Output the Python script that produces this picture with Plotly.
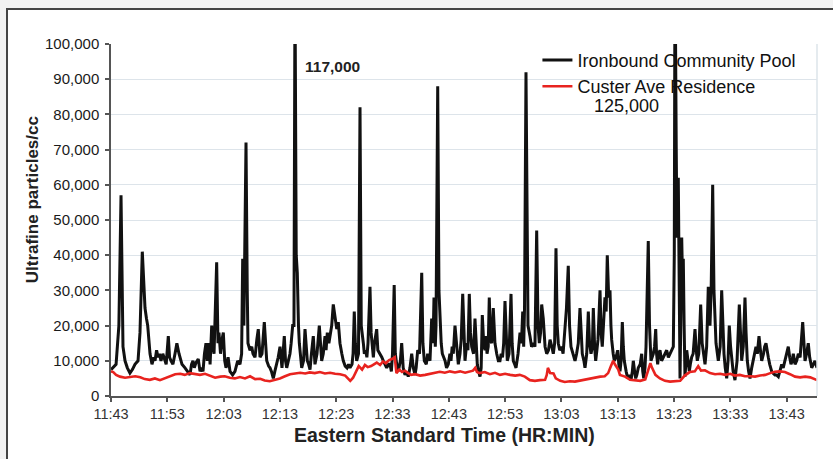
import pandas as pd
import plotly.graph_objects as go

# ---- data (minutes after 11:43, particles/cc) ----
ib_minutes = [0.0,0.36,0.9,1.4,1.78,2.13,2.49,2.9,3.37,3.8,4.26,4.8,5.15,5.56,6.04,6.3,6.52,6.93,7.28,7.6,7.82,8.1,8.35,8.6,8.88,9.2,9.41,9.8,10.18,10.4,10.66,11.0,11.37,11.7,12.08,12.61,13.14,13.6,14.03,14.3,14.56,14.8,15.1,15.5,15.81,16.1,16.34,16.6,16.87,17.1,17.41,17.6,17.89,18.1,18.3,18.77,19.0,19.18,19.45,19.72,19.95,20.2,20.43,20.8,21.14,21.6,22.02,22.5,22.91,23.2,23.39,23.6,23.98,24.2,24.33,24.69,25.0,25.22,25.58,25.9,26.16,26.47,26.82,27.23,27.5,27.66,28.0,28.24,28.5,28.83,29.1,29.43,29.7,30.02,30.37,30.78,31.0,31.21,31.5,31.79,32.0,32.27,32.5,32.68,32.9,33.09,33.3,33.45,33.87,34.2,34.46,34.7,34.87,35.1,35.35,35.6,35.93,36.23,36.59,37.0,37.2,37.42,37.7,38.01,38.2,38.42,38.7,38.9,39.2,39.48,39.79,40.1,40.37,40.67,41.0,41.26,41.6,41.92,42.2,42.45,42.81,43.0,43.21,43.4,43.64,43.96,44.23,44.45,44.82,45.0,45.24,45.45,45.65,46.0,46.2,46.41,46.6,46.8,47.19,47.4,47.78,48.1,48.37,48.7,48.97,49.3,49.56,49.8,50.0,50.3,50.5,50.75,51.0,51.15,51.4,51.63,51.9,52.22,52.5,52.8,53.1,53.41,53.7,54.0,54.2,54.48,54.8,55.19,55.4,55.65,56.0,56.25,56.66,56.96,57.2,57.37,57.6,57.73,58.03,58.25,58.44,58.65,58.85,59.1,59.33,59.6,59.91,60.2,60.39,60.6,60.8,61.1,61.4,61.69,61.99,62.2,62.47,62.7,62.88,63.18,63.4,63.64,63.85,64.07,64.4,64.65,64.85,65.06,65.3,65.54,65.75,65.95,66.2,66.43,66.6,66.79,67.0,67.19,67.4,67.62,67.9,68.2,68.51,68.8,69.09,69.3,69.54,69.75,69.98,70.2,70.39,70.7,71.05,71.25,71.46,71.7,71.94,72.3,72.65,72.9,73.13,73.3,73.45,73.71,73.9,74.07,74.42,74.7,75.01,75.3,75.61,75.85,76.08,76.3,76.5,76.78,77.1,77.39,77.7,77.98,78.3,78.56,78.8,79.04,79.25,79.45,79.7,80.05,80.3,80.64,80.9,81.22,81.45,81.7,82.11,82.42,82.7,83.0,83.3,83.5,83.71,84.0,84.19,84.5,84.78,85.0,85.26,85.5,85.67,85.9,86.09,86.3,86.5,86.86,87.05,87.26,87.5,87.74,87.95,88.15,88.4,88.63,88.8,88.93,89.2,89.4,89.7,90.0,90.2,90.41,90.6,90.82,91.0,91.17,91.5,91.78,92.1,92.36,92.6,92.77,93.0,93.2,93.4,93.66,94.0,94.26,94.45,94.62,94.85,95.03,95.43,95.65,95.91,96.1,96.32,96.55,96.75,96.9,97.1,97.3,97.51,97.8,98.1,98.4,98.7,99.0,99.29,99.6,99.88,100.05,100.18,100.4,100.53,100.76,100.9,101.07,101.2,101.37,101.55,101.65,101.8,101.95,102.26,102.5,102.72,102.9,103.14,103.4,103.73,103.95,104.14,104.4,104.74,105.0,105.21,105.51,105.8,106.09,106.25,106.39,106.6,106.87,107.1,107.46,107.87,108.2,108.47,108.7,108.88,109.1,109.36,109.6,109.82,110.05,110.25,110.5,110.83,111.2,111.6,111.8,112.02,112.3,112.61,112.8,113.02,113.25,113.5,113.8,114.09,114.3,114.56,114.8,115.1,115.35,115.58,115.9,116.1,116.34,116.55,116.75,117.0,117.35,117.6,117.94,118.2,118.53,118.8,119.13,119.4,119.72,120.0,120.3,120.55,120.78,121.0,121.19,121.5,121.79,122.08,122.4,122.86,123.05,123.27,123.55,123.85,124.1,124.46,124.75,125.04,125.4]
ib_values = [7500,8000,9000,20000,57000,14000,10000,8000,6500,7500,9000,10000,18000,41000,25000,22000,20000,12000,9000,11000,10000,13000,11000,12000,10000,12000,11000,9000,17000,11000,10000,9000,12000,15000,12000,9000,8000,7000,6000,9000,10000,8000,9500,10500,7000,8000,7000,12000,15000,10000,15000,9000,20000,14000,12000,38000,15000,18000,12000,16000,18000,10000,8000,11000,7000,6000,7000,10000,9000,12000,39000,20000,72000,30000,15000,13000,14000,12000,11000,16000,19000,11000,12000,21000,14000,10000,8500,8000,7000,5000,7000,9000,11000,14000,8000,17000,10000,8000,10000,12000,15000,20000,20000,117000,40000,35000,20000,15000,8000,10000,19000,12000,10000,9000,7500,12000,17000,9000,12000,20000,14000,10000,12000,17000,13000,18000,15000,17000,20000,26000,22000,19000,21000,15000,12000,10000,8500,8000,9000,8000,9000,12000,24000,15000,10000,12000,82000,20000,15000,12000,13000,11000,15000,31000,18000,13000,11000,15000,19000,13000,12000,11000,10000,9000,8000,9000,9000,7000,12000,31500,12000,9000,7000,8000,10000,15000,8000,6000,7000,5500,8000,12000,8000,6000,8000,13000,12000,35000,15000,10000,9000,12000,10000,22000,15000,28000,14000,20000,88000,30000,20000,15000,12000,11000,10000,8000,9000,12000,10000,14000,12000,20000,14000,9000,12000,16000,29000,14000,10000,15000,13000,29000,18000,14000,12000,22000,13000,9000,7000,5500,8000,23000,15000,13000,17000,12000,14000,28000,16000,15000,25000,15000,12000,10000,10000,12000,11000,15000,27000,14000,10000,12000,29000,15000,10000,9000,8000,12000,18000,15000,24000,14000,25000,92000,40000,20000,17000,14000,15000,14000,47000,20000,15000,18000,26000,22000,14000,12000,13000,16000,14000,12000,15000,42000,20000,15000,13000,14000,12000,20000,25000,37000,20000,14000,12000,10000,12000,15000,25000,16000,12000,10000,8000,12000,24000,15000,12000,14000,25000,14000,10000,13000,16000,30000,18000,14000,20000,28000,24000,40000,28000,30000,20000,16000,12000,10000,11000,13000,9000,7000,10000,21000,14000,10000,7000,5000,6000,4500,7000,10000,7000,5000,6000,8000,9000,12000,7000,5000,8000,14000,44000,20000,10000,11000,12000,14000,19000,12000,9000,12000,13000,10000,11000,12000,13000,11000,12000,13000,14000,40000,125000,70000,45000,62000,30000,5000,20000,45000,30000,39000,20000,5500,13000,9000,7000,9000,11000,12000,19000,13000,10000,12000,26000,15000,12000,9000,14000,31000,22000,20000,30000,60000,30000,15000,10000,14000,30000,15000,12000,8000,5000,10000,20000,14000,10000,7000,4500,10000,26000,15000,10000,14000,28000,18000,10000,7000,5000,8000,10000,12000,14000,12000,17000,13000,10000,12000,14000,15000,12000,11000,9000,7000,6500,6000,6000,5500,7000,9000,8000,10000,12000,14000,11000,9000,10000,12000,9000,10000,12000,11000,21000,14000,10000,12000,15000,11000,8000,9000,10000,8000]

cu_minutes = [0.0,0.4,0.9,1.6,2.5,3.4,4.3,5.2,6.0,6.9,7.8,8.7,9.6,10.5,11.4,12.3,13.1,14.0,14.9,15.8,16.7,17.6,18.5,19.4,20.2,21.1,22.0,22.9,23.8,24.7,25.6,26.5,27.3,28.2,29.1,30.0,30.9,31.8,32.7,33.6,34.5,35.3,36.2,37.1,38.0,38.9,39.8,40.7,41.6,42.1,42.5,43.0,43.5,44.0,44.6,45.1,45.6,46.2,46.7,47.2,47.8,48.3,48.8,49.4,49.9,50.4,50.7,51.2,51.7,52.2,52.8,53.3,54.0,54.9,55.8,56.7,57.5,58.4,59.3,60.2,61.1,62.0,62.9,63.8,64.3,64.7,65.0,65.5,66.4,67.3,68.2,69.1,70.0,70.9,71.8,72.6,73.5,74.4,75.3,76.2,77.1,77.4,77.6,78.0,78.6,79.0,79.8,80.6,81.5,82.4,83.3,84.2,85.1,86.0,86.9,87.7,88.3,88.8,89.2,89.5,90.1,90.4,91.3,92.2,93.1,94.0,94.9,95.4,95.8,96.1,96.7,97.5,98.4,99.3,100.2,101.1,101.9,102.8,103.7,104.3,104.8,105.5,106.4,107.3,108.2,109.1,110.0,110.8,111.7,112.6,113.5,114.4,115.3,116.2,117.1,117.9,118.8,119.7,120.6,121.5,122.4,123.3,124.2,125.0,125.4]
cu_values = [7000,6800,6000,5500,5200,5300,5600,5300,4800,4600,5000,4500,5000,5500,6200,6300,6000,6500,6200,6000,6300,5800,5200,5500,5600,5200,5000,5400,5000,5600,4800,4900,4400,4200,4500,5000,5600,6200,6400,6600,6400,6700,6500,6800,6400,6600,6300,6200,5800,4800,4300,5200,7000,8500,7500,8800,8200,8500,9000,9500,8800,9800,9300,10200,10500,11000,6500,7500,6800,7200,6500,6000,6200,5800,6000,6300,6700,6900,6600,7000,6700,7000,6600,7000,7200,8000,6800,6500,6800,6200,6600,6000,6300,6000,5800,6000,5500,4500,4300,4500,4600,6000,8000,6500,6400,5000,4300,4000,4200,4100,4400,4600,5000,5300,5500,5600,6500,8500,10000,9000,7500,6000,5500,4600,4500,4300,4700,7500,9300,8000,6000,5000,4300,4100,4200,4300,5800,6800,7000,8500,7200,7300,6500,6200,6300,6000,6300,5800,6000,5600,5600,5500,5800,6000,6500,6900,7000,6800,6200,5500,5300,5500,5300,4800,4500]

series_names = ["Ironbound Community Pool", "Custer Ave Residence"]
y_ticks = [0, 10000, 20000, 30000, 40000, 50000, 60000, 70000, 80000, 90000, 100000]
start_time = "2000-01-01 11:43:00"
x_end_minutes = 125.4
peak_labels = ["117,000", "125,000"]

base = pd.Timestamp(start_time)
ib_t = base + pd.to_timedelta(ib_minutes, unit="min")
cu_t = base + pd.to_timedelta(cu_minutes, unit="min")

fig = go.Figure()
fig.add_trace(go.Scatter(x=ib_t, y=ib_values, mode="lines", name=series_names[0],
                         line=dict(color="#111111", width=3)))
fig.add_trace(go.Scatter(x=cu_t, y=cu_values, mode="lines", name=series_names[1],
                         line=dict(color="#e8231f", width=2.6)))

FONT = "Liberation Sans, Arial, sans-serif"

fig.update_layout(
    width=833, height=459,
    margin=dict(l=111, r=16, t=44, b=63),
    paper_bgcolor="#f2f2f2",
    plot_bgcolor="white",
    showlegend=True,
    legend=dict(x=0.604, y=1.0065, xanchor="left", yanchor="top",
                bgcolor="rgba(0,0,0,0)", font=dict(family=FONT, size=18, color="#111"),
                itemwidth=30, tracegroupgap=0),
    font=dict(family=FONT, color="#222"),
)

fig.update_xaxes(
    type="date",
    range=[base, base + pd.Timedelta(minutes=x_end_minutes)],
    tick0=base, dtick=600000, tickformat="%H:%M",
    showgrid=False, showline=True, linecolor="#555", linewidth=1.5,
    ticks="outside", ticklen=4, tickcolor="#555", tickwidth=1.5,
    tickfont=dict(family=FONT, size=14.5, color="#333"),
    zeroline=False,
)
fig.update_yaxes(
    range=[0, 100000], tickvals=y_ticks, tickformat=",d",
    showgrid=True, gridcolor="#dde4ea", gridwidth=1,
    showline=True, linecolor="#555", linewidth=1.5,
    ticks="outside", ticklen=4, tickcolor="#555", tickwidth=1.5,
    tickfont=dict(family=FONT, size=15, color="#1a1a1a"),
    ticklabelstandoff=3,
    zeroline=False,
)

# frame, plot right border
fig.add_shape(type="rect", xref="paper", yref="paper", x0=-0.1473, x1=1.2, y0=-0.4, y1=1.0994,
              line=dict(color="#444", width=2), fillcolor="white", layer="below")
fig.add_shape(type="line", xref="paper", yref="paper", x0=1, x1=1, y0=0, y1=1,
              line=dict(color="#dde4ea", width=1.5))

# axis titles
fig.add_annotation(text="<b>Eastern Standard Time (HR:MIN)</b>", xref="paper", yref="paper",
                   x=0.473, y=-0.111, xanchor="center", yanchor="middle", showarrow=False,
                   font=dict(family=FONT, size=19.5, color="#222"))
fig.add_annotation(text="<b>Ultrafine particles/cc</b>", xref="paper", yref="paper",
                   x=-0.110, y=0.557, xanchor="center", yanchor="middle", showarrow=False,
                   textangle=-90, font=dict(family=FONT, size=17, color="#222"))

# peak labels anchored to the two highest peaks
i1 = ib_values.index(117000)
i2 = ib_values.index(125000)
fig.add_annotation(text="<b>" + peak_labels[0] + "</b>", x=ib_t[i1], y=93700, xanchor="left",
                   yanchor="middle", xshift=8, showarrow=False,
                   font=dict(family=FONT, size=15.5, color="#222"))
fig.add_annotation(text=peak_labels[1], x=ib_t[i2], y=82300, xanchor="right",
                   yanchor="middle", xshift=-14, showarrow=False,
                   font=dict(family=FONT, size=18, color="#111"))

fig.write_html("out.html", config={"displayModeBar": False})

# remove the default page margin so the figure sits at the window's origin
with open("out.html", "r", encoding="utf-8") as f:
    html = f.read()
html = html.replace("<head>", "<head><style>html,body{margin:0;padding:0;}</style>", 1)
with open("out.html", "w", encoding="utf-8") as f:
    f.write(html)
